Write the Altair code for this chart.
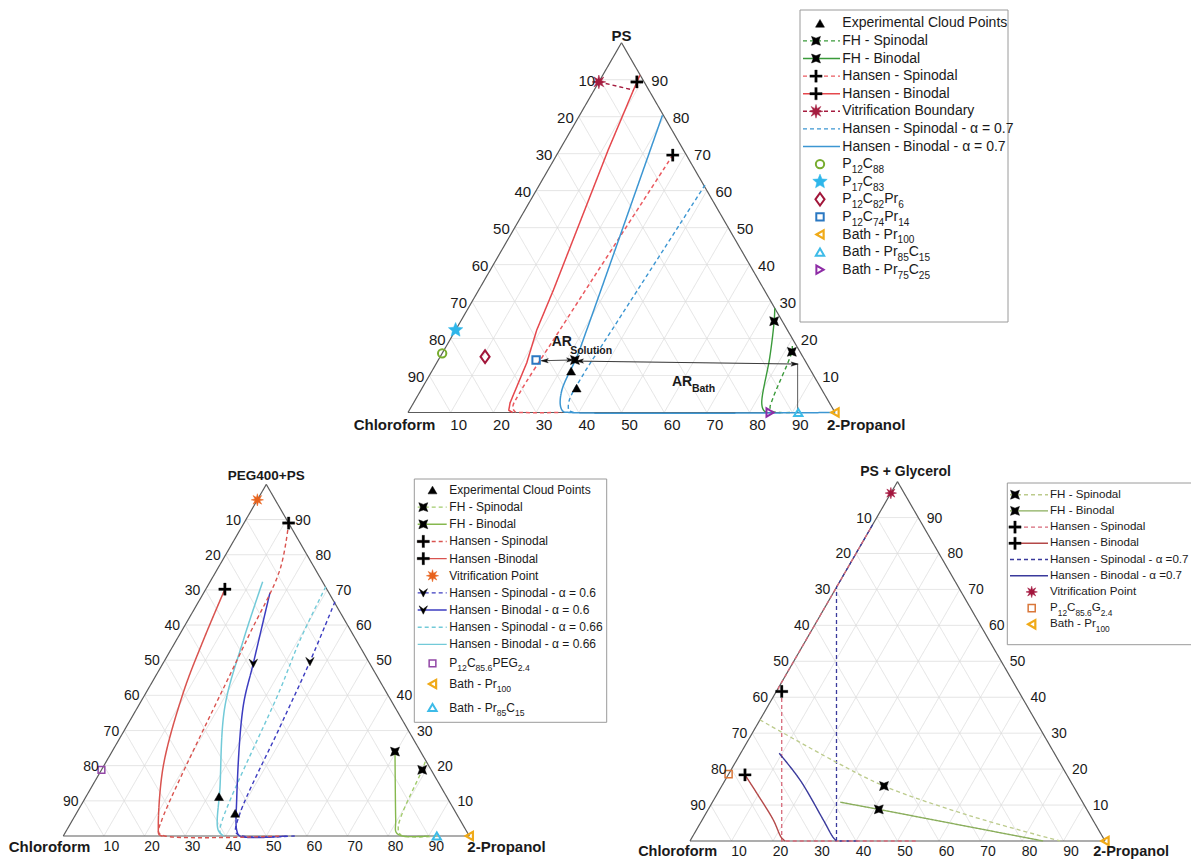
import math
import re
import altair as alt
import pandas as pd

# ===================== values (percent) =====================
TICKS = [10, 20, 30, 40, 50, 60, 70, 80, 90]
TOP_NAMES = ["PS", "PEG400+PS", "PS + Glycerol"]
LEFT_NAME = "Chloroform"
RIGHT_NAME = "2-Propanol"

# pr = 2-propanol %, ps = polymer %, chloroform = 100 - pr - ps
# ---------------- panel 1 : PS ----------------
p1_exp_pr = [32.6, 36.2]
p1_exp_ps = [11.2, 6.6]
p1_fhs_pr = [81.0, 81.7, 83.5, 84.2, 85.2, 87.0, 90.0]
p1_fhs_ps = [18.0, 16.4, 4.0, 1.2, 0.3, 0.0, 0.0]
p1_fhb_pr = [71.8, 73.4, 77.2, 81.6, 83.0, 84.0]
p1_fhb_ps = [28.2, 24.7, 15.1, 2.5, 0.6, 0.0]
p1_hs_pr = [27.2, 24.4, 23.5, 23.8, 25.0, 27.0, 36.0]
p1_hs_ps = [69.6, 22.3, 5.0, 1.5, 0.2, 0.0, 0.0]
p1_hb_pr = [8.7, 9.2, 11.4, 17.5, 19.0, 21.1, 22.6, 23.3, 24.5]
p1_hb_ps = [91.2, 87.2, 70.9, 33.1, 22.3, 13.4, 2.6, 0.6, 0.0]
p1_vit_pr = [0.0, 9.2]
p1_vit_ps = [89.4, 87.2]
p1_as_pr = [38.8, 36.6, 35.9, 36.2, 37.5, 39.0]
p1_as_ps = [61.5, 22.3, 10.0, 3.0, 0.5, 0.0]
p1_ab_pr = [19.4, 30.7, 32.0, 33.0, 34.8, 36.2, 38.0, 100.0]
p1_ab_ps = [80.4, 22.3, 15.1, 6.1, 1.8, 0.3, 0.0, 0.0]
p1_fhs_mk_pr, p1_fhs_mk_ps = [81.7], [16.4]
p1_fhb_mk_pr, p1_fhb_mk_ps = [73.4], [24.7]
p1_plus_pr, p1_plus_ps = [27.2, 8.9], [69.6, 89.4]
p1_vit_mk_pr, p1_vit_mk_ps = [0.0], [89.4]
p1_sample_keys = ["circ_g", "star_c", "dia_r", "sq_b", "tl_o", "tu_c", "tr_p"]
p1_sample_pr = [0.0, 0.0, 10.5, 22.9, 100.0, 91.4, 84.8]
p1_sample_ps = [16.0, 22.3, 15.1, 14.2, 0.0, 0.0, 0.0]
p1_ar_sol_pr, p1_ar_sol_ps = [24.3, 31.6], [14.0, 14.2]
p1_ar_bath_pr, p1_ar_bath_ps = [32.6, 84.7], [13.9, 13.1]
p1_ar_drop_pr, p1_ar_drop_ps = [84.7, 91.25], [13.1, 0.0]
p1_ar_mid_pr, p1_ar_mid_ps = [32.0], [14.2]

# ---------------- panel 2 : PEG400+PS ----------------
p2_exp_pr = [32.75, 39.1]
p2_exp_ps = [11.2, 6.45]
p2_fhs_pr = [78.6, 79.0, 81.2, 83.0, 92.0]
p2_fhs_ps = [21.1, 18.8, 2.6, 0.3, 0.0]
p2_fhb_pr = [69.7, 79.6, 81.5, 83.5, 90.0]
p2_fhb_ps = [24.0, 4.55, 1.0, 0.0, 0.0]
p2_hs_pr = [11.0, 15.5, 17.3, 22.0, 23.0, 25.0, 54.0]
p2_hs_ps = [89.0, 75.7, 55.7, 4.5, 1.0, 0.0, 0.0]
p2_hb_pr = [4.7, 6.65, 9.2, 14.75, 22.1, 23.4, 24.5]
p2_hb_ps = [70.2, 55.7, 40.6, 19.7, 2.6, 0.4, 0.0]
p2_a6s_pr = [33.6, 35.95, 37.85, 40.3, 42.0, 44.0, 57.0]
p2_a6s_ps = [66.6, 49.6, 31.1, 6.45, 1.0, 0.0, 0.0]
p2_a6b_pr = [16.3, 22.25, 25.9, 37.6, 42.0, 43.5, 55.0]
p2_a6b_ps = [69.2, 49.1, 36.8, 10.2, 1.5, 0.0, 0.0]
p2_a66s_pr = [29.2, 30.45, 32.6, 37.7, 39.0]
p2_a66s_ps = [70.9, 55.7, 41.5, 1.7, 0.0]
p2_a66b_pr = [12.95, 16.5, 21.4, 31.6, 37.3, 39.5]
p2_a66b_ps = [72.3, 55.7, 36.8, 14.0, 1.7, 0.0]
p2_fhs_mk_pr, p2_fhs_mk_ps = [79.0], [18.8]
p2_fhb_mk_pr, p2_fhb_mk_ps = [69.7], [24.0]
p2_plus_pr, p2_plus_ps = [11.0, 4.7], [89.0, 70.2]
p2_vee_pr, p2_vee_ps = [35.95, 22.25], [49.6, 49.1]
p2_vit_mk_pr, p2_vit_mk_ps = [0.0], [95.6]
p2_sample_keys = ["sq_p", "tl_o", "tu_c"]
p2_sample_pr = [0.0, 100.0, 92.0]
p2_sample_ps = [18.8, 0.0, 0.0]

# ---------------- panel 3 : PS + Glycerol ----------------
p3_fhs_pr = [0.0, 23.9, 39.1, 64.0, 89.2]
p3_fhs_ps = [33.7, 22.1, 15.3, 7.0, 0.0]
p3_fhb_pr = [30.8, 41.1, 85.1]
p3_fhb_ps = [10.8, 8.8, 0.0]
p3_hs_pr = [0.0, 0.0, 1.3, 22.1, 55.0]
p3_hs_ps = [87.0, 42.5, 41.6, 0.0, 0.0]
p3_hb_pr = [4.05, 9.45, 17.15, 21.5, 22.9]
p3_hb_ps = [18.4, 13.3, 5.85, 1.0, 0.0]
p3_as_pr = [0.0, 0.0, 35.3, 41.0]
p3_as_ps = [88.0, 70.6, 0.0, 0.0]
p3_ab_pr = [9.3, 18.0, 29.2, 34.0, 35.3]
p3_ab_ps = [24.4, 17.0, 5.85, 1.0, 0.0]
p3_fh_mk_pr, p3_fh_mk_ps = [39.1, 41.1], [15.3, 8.8]
p3_plus_pr, p3_plus_ps = [1.3, 4.05], [41.6, 18.4]
p3_vit_mk_pr, p3_vit_mk_ps = [0.0], [96.8]
p3_sample_keys = ["sq_o", "tl_o"]
p3_sample_pr = [0.0, 100.0]
p3_sample_ps = [18.6, 0.0]

# ---------------- legend texts (_{..} = subscript) ----------------
LEG1_LABELS = ["Experimental Cloud Points", "FH - Spinodal", "FH - Binodal",
               "Hansen - Spinodal", "Hansen - Binodal", "Vitrification Boundary",
               "Hansen - Spinodal - α = 0.7", "Hansen - Binodal - α = 0.7",
               "P_{12}C_{88}", "P_{17}C_{83}", "P_{12}C_{82}Pr_{6}", "P_{12}C_{74}Pr_{14}",
               "Bath - Pr_{100}", "Bath - Pr_{85}C_{15}", "Bath - Pr_{75}C_{25}"]
LEG2_LABELS = ["Experimental Cloud Points", "FH - Spinodal", "FH - Binodal",
               "Hansen - Spinodal", "Hansen -Binodal", "Vitrification Point",
               "Hansen - Spinodal - α = 0.6", "Hansen - Binodal - α = 0.6",
               "Hansen - Spinodal - α = 0.66", "Hansen - Binodal - α = 0.66",
               "P_{12}C_{85.6}PEG_{2.4}", "Bath - Pr_{100}", "Bath - Pr_{85}C_{15}"]
LEG3_LABELS = ["FH - Spinodal", "FH - Binodal", "Hansen - Spinodal", "Hansen - Binodal",
               "Hansen - Spinodal - α =0.7", "Hansen - Binodal - α =0.7",
               "Vitrification Point", "P_{12}C_{85.6}G_{2.4}", "Bath - Pr_{100}"]
AR_LABELS = [("AR", "Solution"), ("AR", "Bath")]

# ===================== styles / layout =====================
FONT = "Liberation Sans"
SQ3 = math.sqrt(3)
PAGE_W, PAGE_H, MARGIN = 1199, 859, 8
PANELS = {
    1: dict(x0=408.0, y0=412.5, L=427.0, tfs=15, nfs=15, top_fs=15,
            bdx=8, bdy=12.5, rdx=8.5, ldx=-5,
            top_off=(0, -7), left_off=(-13.5, 12.5), right_off=(-8, 12.5)),
    2: dict(x0=63.3, y0=836.0, L=406.0, tfs=14, nfs=15, top_fs=13.5,
            bdx=7.5, bdy=10.7, rdx=8.5, ldx=-5,
            top_off=(0, -8.5), left_off=(-13.7, 10.7), right_off=(-2, 10.7)),
    3: dict(x0=690.0, y0=841.0, L=415.0, tfs=14, nfs=14.5, top_fs=14,
            bdx=7.5, bdy=10.7, rdx=8.5, ldx=-5,
            top_off=(8, -10), left_off=(-12.4, 10.7), right_off=(-11.7, 10.7)),
}


def tern(panel, pr, ps):
    g = PANELS[panel]
    return (g["x0"] + g["L"] * (pr + ps / 2.0) / 100.0,
            g["y0"] - g["L"] * SQ3 / 2.0 * ps / 100.0)


def star_path(n, r_in):
    pts_ = []
    for i in range(2 * n):
        a = -math.pi / 2 + i * math.pi / n
        r = 1.0 if i % 2 == 0 else r_in
        pts_.append(f"{r * math.cos(a):.3f},{r * math.sin(a):.3f}")
    return "M" + "L".join(pts_) + "Z"


T = 0.2
PLUS = f"M{-T},-1L{T},-1L{T},{-T}L1,{-T}L1,{T}L{T},{T}L{T},1L{-T},1L{-T},{T}L-1,{T}L-1,{-T}L{-T},{-T}Z"
BOWTIE = "M-1,-1L0,-0.62L1,-1L0.62,0L1,1L0,0.62L-1,1L-0.62,0Z"
AST = star_path(8, 0.42)
STAR5 = star_path(5, 0.45)
DIAMOND = "M0,-1L0.72,0L0,1L-0.72,0Z"
VEE = "M-1,-1L0,-0.25L1,-1L0,1Z"
ARROW = "M1,0L-1,-0.6L-0.55,0L-1,0.6Z"

MK = {
    "exp": ("triangle-up", "#000000", "#000000", 80, 0.5),
    "fh": (BOWTIE, "#000000", "#000000", 80, 0.5),
    "plus": (PLUS, "#000000", "#000000", 150, 0.3),
    "vit1": (AST, "#a51c3f", "#a51c3f", 190, 0.5),
    "vit2": (AST, "#e8621c", "#e8621c", 150, 0.5),
    "vit3": (AST, "#a3153d", "#a3153d", 130, 0.5),
    "circ_g": ("circle", "transparent", "#77ac2e", 70, 2.0),
    "star_c": (STAR5, "#2eb6ea", "#2eb6ea", 230, 0.5),
    "dia_r": (DIAMOND, "transparent", "#a2163a", 160, 2.0),
    "sq_b": ("square", "transparent", "#2a78c2", 55, 2.0),
    "tl_o": ("triangle-left", "transparent", "#f0aa18", 70, 2.2),
    "tu_c": ("triangle-up", "transparent", "#3dbbe8", 70, 2.0),
    "tr_p": ("triangle-right", "transparent", "#8e2ca6", 70, 2.0),
    "sq_p": ("square", "transparent", "#9247a6", 45, 1.5),
    "sq_o": ("square", "transparent", "#d9773a", 50, 1.5),
    "vee": (VEE, "#000000", "#000000", 70, 0.5),
    "arr": (ARROW, "#111111", "#111111", 55, 0.3),
}

C1_GREEN, C1_RED, C1_RED2, C1_VIT, C1_BLUE = "#3a9a3a", "#e5484d", "#ea5a60", "#a51c3f", "#3c96d2"
C2_RED, C2_CYAN, C2_BLUE, C2_FHB, C2_FHS = "#d9534f", "#72cad8", "#3c3cc0", "#86b84e", "#a3cc6e"
C3_FHB, C3_FHS, C3_HS, C3_HB, C3_NAVY = "#8aae5c", "#bccb8c", "#d7697a", "#b44848", "#3a3a9c"

# (panel, pr, ps, colour, dash, width, smooth)
CURVES = [
    (1, p1_fhs_pr, p1_fhs_ps, C1_GREEN, "dash", 1.4, True),
    (1, p1_fhb_pr, p1_fhb_ps, C1_GREEN, "solid", 1.4, True),
    (1, p1_hs_pr, p1_hs_ps, C1_RED2, "dash", 1.5, True),
    (1, p1_as_pr, p1_as_ps, C1_BLUE, "dash", 1.4, True),
    (1, p1_ab_pr, p1_ab_ps, C1_BLUE, "solid", 1.5, True),
    (1, p1_hb_pr, p1_hb_ps, C1_RED, "solid", 1.5, False),
    (1, p1_vit_pr, p1_vit_ps, C1_VIT, "dash", 1.4, False),
    (2, p2_fhs_pr, p2_fhs_ps, C2_FHS, "dash", 1.4, True),
    (2, p2_fhb_pr, p2_fhb_ps, C2_FHB, "solid", 1.4, True),
    (2, p2_a66s_pr, p2_a66s_ps, C2_CYAN, "dash", 1.4, True),
    (2, p2_a66b_pr, p2_a66b_ps, C2_CYAN, "solid", 1.5, True),
    (2, p2_a6s_pr, p2_a6s_ps, C2_BLUE, "dash", 1.4, True),
    (2, p2_a6b_pr, p2_a6b_ps, C2_BLUE, "solid", 1.5, True),
    (2, p2_hs_pr, p2_hs_ps, C2_RED, "dash", 1.4, True),
    (2, p2_hb_pr, p2_hb_ps, C2_RED, "solid", 1.5, True),
    (3, p3_fhs_pr, p3_fhs_ps, C3_FHS, "dash", 1.3, True),
    (3, p3_fhb_pr, p3_fhb_ps, C3_FHB, "solid", 1.4, False),
    (3, p3_as_pr, p3_as_ps, C3_NAVY, "dash", 1.3, False),
    (3, p3_ab_pr, p3_ab_ps, C3_NAVY, "solid", 1.4, True),
    (3, p3_hs_pr, p3_hs_ps, C3_HS, "dash", 1.3, False),
    (3, p3_hb_pr, p3_hb_ps, C3_HB, "solid", 1.4, True),
]

MARKS = [
    (1, ["exp"] * 2, p1_exp_pr, p1_exp_ps),
    (1, ["fh"], p1_fhs_mk_pr, p1_fhs_mk_ps),
    (1, ["fh"], p1_fhb_mk_pr, p1_fhb_mk_ps),
    (1, ["plus"] * 2, p1_plus_pr, p1_plus_ps),
    (1, ["vit1"], p1_vit_mk_pr, p1_vit_mk_ps),
    (1, p1_sample_keys, p1_sample_pr, p1_sample_ps),
    (1, ["fh"], p1_ar_mid_pr, p1_ar_mid_ps),
    (2, ["exp"] * 2, p2_exp_pr, p2_exp_ps),
    (2, ["fh"], p2_fhs_mk_pr, p2_fhs_mk_ps),
    (2, ["fh"], p2_fhb_mk_pr, p2_fhb_mk_ps),
    (2, ["plus"] * 2, p2_plus_pr, p2_plus_ps),
    (2, ["vee"] * 2, p2_vee_pr, p2_vee_ps),
    (2, ["vit2"], p2_vit_mk_pr, p2_vit_mk_ps),
    (2, p2_sample_keys, p2_sample_pr, p2_sample_ps),
    (3, ["fh"] * 2, p3_fh_mk_pr, p3_fh_mk_ps),
    (3, ["plus"] * 2, p3_plus_pr, p3_plus_ps),
    (3, ["vit3"], p3_vit_mk_pr, p3_vit_mk_ps),
    (3, p3_sample_keys, p3_sample_pr, p3_sample_ps),
]

LEG1_STYLE = [(None, None, "exp"), (C1_GREEN, "dash", "fh"), (C1_GREEN, "solid", "fh"),
              (C1_RED2, "dash", "plus"), (C1_RED, "solid", "plus"), (C1_VIT, "dash", "vit1"),
              (C1_BLUE, "dash", None), (C1_BLUE, "solid", None)] + [(None, None, k) for k in p1_sample_keys]
LEG2_STYLE = [(None, None, "exp"), (C2_FHS, "dash", "fh"), (C2_FHB, "solid", "fh"),
              (C2_RED, "dash", "plus"), (C2_RED, "solid", "plus"), (None, None, "vit2"),
              (C2_BLUE, "dash", "vee"), (C2_BLUE, "solid", "vee"),
              (C2_CYAN, "dash", None), (C2_CYAN, "solid", None)] + [(None, None, k) for k in p2_sample_keys]
LEG3_STYLE = [(C3_FHS, "dash", "fh"), (C3_FHB, "solid", "fh"), (C3_HS, "dash", "plus"),
              (C3_HB, "solid", "plus"), (C3_NAVY, "dash", None), (C3_NAVY, "solid", None),
              (None, None, "vit3"), (None, None, "sq_o"), (None, None, "tl_o")]

LEGENDS = [
    dict(labels=LEG1_LABELS, style=LEG1_STYLE, box=(800, 10, 1008, 322),
         rows=[23.3 + 17.6 * i for i in range(15)], line=(803, 840), mk_line=816, mk_only=820,
         tx=842.3, fs=14),
    dict(labels=LEG2_LABELS, style=LEG2_STYLE, box=(414.3, 479, 606.7, 722.3),
         rows=[490 + 17.15 * i for i in range(10)] + [663.3, 684.0, 707.5],
         line=(417.7, 446.7), mk_line=423.3, mk_only=432.5, tx=449.3, fs=12),
    dict(labels=LEG3_LABELS, style=LEG3_STYLE, box=(1007.3, 483, 1196, 644.7),
         rows=[494.7 + 16.2 * i for i in range(9)], line=(1010, 1048), mk_line=1015, mk_only=1031.7,
         tx=1050, fs=11.6),
]

# Arial / Liberation Sans advance widths (1/1000 em) for the glyphs used in sub-scripted labels
AW = {**{d: 556 for d in "0123456789"}, "P": 667, "C": 722, "r": 333, "B": 667, "a": 556,
      "t": 278, "h": 556, " ": 278, "-": 333, "G": 778, "E": 667, ".": 278}


def text_w(s, fs):
    return sum(AW.get(ch, 556) for ch in s) * fs / 1000.0


# ===================== build tables =====================
seg_lo, seg_hi, lines, pts, texts, boxes = [], [], [], [], [], []


def add_seg(store, a, b, col, w, dash="solid"):
    store.append(dict(x=a[0], y=a[1], x2=b[0], y2=b[1], col=col, w=w, dash=dash))


def add_pt(key, x, y, ang=0):
    shp, fill, stroke, size, sw = MK[key]
    pts.append(dict(x=x, y=y, shp=shp, fill=fill, stroke=stroke, size=size, sw=sw, ang=ang))


def add_txt(x, y, t, fs, align, weight="normal", col="#1a1a1a"):
    texts.append(dict(x=x, y=y, t=t, fs=fs, align=align, weight=weight, col=col))


def add_rich(x, y, label, fs):
    parts = re.split(r"_\{([^}]*)\}", label)
    cx = x
    for i, seg in enumerate(parts):
        if not seg:
            continue
        if i % 2 == 0:
            add_txt(cx, y, seg, fs, "left")
            cx += text_w(seg, fs)
        else:
            sfs = fs * 0.72
            add_txt(cx, y + 0.42 * fs, seg, sfs, "left")
            cx += text_w(seg, sfs)


for pn, g in PANELS.items():
    for k in TICKS:
        add_seg(seg_lo, tern(pn, 0, k), tern(pn, 100 - k, k), "#dcdcdc", 0.8)
        add_seg(seg_lo, tern(pn, k, 0), tern(pn, k, 100 - k), "#dcdcdc", 0.8)
        add_seg(seg_lo, tern(pn, 100 - k, 0), tern(pn, 0, 100 - k), "#dcdcdc", 0.8)
    corners = [tern(pn, 0, 0), tern(pn, 100, 0), tern(pn, 0, 100)]
    for i in range(3):
        add_seg(seg_lo, corners[i], corners[(i + 1) % 3], "#5c5c5c", 1.2)
    for k in TICKS:
        bx, by = tern(pn, k, 0)
        add_txt(bx + g["bdx"], by + g["bdy"], str(k), g["tfs"], "center")
        rx, ry = tern(pn, 100 - k, k)
        add_txt(rx + g["rdx"], ry + 1, str(k), g["tfs"], "left")
        lx, ly = tern(pn, 0, 100 - k)
        add_txt(lx + g["ldx"], ly + 1, str(k), g["tfs"], "right")
    add_txt(corners[2][0] + g["top_off"][0], corners[2][1] + g["top_off"][1],
            TOP_NAMES[pn - 1], g["top_fs"], "center", "bold")
    add_txt(corners[0][0] + g["left_off"][0], corners[0][1] + g["left_off"][1],
            LEFT_NAME, g["nfs"], "center", "bold")
    add_txt(corners[1][0] + g["right_off"][0], corners[1][1] + g["right_off"][1],
            RIGHT_NAME, g["nfs"], "left", "bold")

for sid, (pn, prs, pss, col, dash, w, smooth) in enumerate(CURVES):
    for o, (a, b) in enumerate(zip(prs, pss)):
        x, y = tern(pn, a, b)
        lines.append(dict(sid=sid, o=o, x=x, y=y, col=col, dash=dash, w=w, smooth=smooth))

for pn, keys, prs, pss in MARKS:
    for key, a, b in zip(keys, prs, pss):
        x, y = tern(pn, a, b)
        add_pt(key, x, y)

# AR arrows in panel 1
for prs, pss in [(p1_ar_sol_pr, p1_ar_sol_ps), (p1_ar_bath_pr, p1_ar_bath_ps)]:
    a = tern(1, prs[0], pss[0])
    b = tern(1, prs[1], pss[1])
    add_seg(seg_hi, a, b, "#222222", 1.0)
    add_pt("arr", a[0] + 3, a[1], 180)
    add_pt("arr", b[0] - 3, b[1], 0)
add_seg(seg_hi, tern(1, p1_ar_drop_pr[0], p1_ar_drop_ps[0]),
        tern(1, p1_ar_drop_pr[1], p1_ar_drop_ps[1]), "#444444", 0.9)
sa = tern(1, p1_ar_sol_pr[0], p1_ar_sol_ps[0])
ba = tern(1, p1_ar_bath_pr[0], p1_ar_bath_ps[0])
for (main, sub), (ax, ay, mdx, mdy, sdx, sdy) in zip(
        AR_LABELS, [(sa[0], sa[1], 10, -18.5, 28.5, -10), (ba[0], ba[1], 95, 21, 115, 27.5)]):
    add_txt(ax + mdx, ay + mdy, main, 14, "left", "bold")
    add_txt(ax + sdx, ay + sdy, sub, 10.5, "left", "bold")

# legends
for lg in LEGENDS:
    x1, y1, x2, y2 = lg["box"]
    boxes.append(dict(x=x1, y=y1, x2=x2, y2=y2))
    for lab, (lc, dash, mk), ry in zip(lg["labels"], lg["style"], lg["rows"]):
        if lc is not None:
            add_seg(seg_hi, (lg["line"][0], ry), (lg["line"][1], ry), lc, 1.4, dash)
        if mk is not None:
            add_pt(mk, lg["mk_line"] if lc is not None else lg["mk_only"], ry)
        add_rich(lg["tx"], ry, lab, lg["fs"])

# ===================== chart =====================
W = PAGE_W - 2 * MARGIN
H = PAGE_H - MARGIN
XS = alt.Scale(domain=[MARGIN, MARGIN + W], nice=False, zero=False)
YS = alt.Scale(domain=[MARGIN, MARGIN + H], nice=False, zero=False, reverse=True)


def X(f="x"):
    return alt.X(f"{f}:Q", scale=XS, axis=None)


def Y(f="y"):
    return alt.Y(f"{f}:Q", scale=YS, axis=None)


DASH = alt.StrokeDash("dash:N", scale=alt.Scale(domain=["solid", "dash"], range=[[1, 0], [4, 3]]),
                      legend=None)


def rules(rows):
    return alt.Chart(pd.DataFrame(rows)).mark_rule(strokeCap="butt").encode(
        x=X(), y=Y(), x2=alt.X2("x2:Q"), y2=alt.Y2("y2:Q"),
        color=alt.Color("col:N", scale=None),
        strokeWidth=alt.StrokeWidth("w:Q", scale=None),
        strokeDash=DASH)


box_layer = alt.Chart(pd.DataFrame(boxes)).mark_rect(
    fill="white", stroke="#9a9a9a", strokeWidth=1).encode(
    x=X(), y=Y(), x2=alt.X2("x2:Q"), y2=alt.Y2("y2:Q"))

ldf = pd.DataFrame(lines)
line_layers = []
for smooth, sub in ldf.groupby("smooth"):
    line_layers.append(
        alt.Chart(sub.drop(columns="smooth").reset_index(drop=True)).mark_line(
            strokeCap="butt", strokeJoin="round",
            interpolate="catmull-rom" if smooth else "linear").encode(
            x=X(), y=Y(), detail="sid:N", order="o:Q",
            color=alt.Color("col:N", scale=None),
            strokeWidth=alt.StrokeWidth("w:Q", scale=None),
            strokeDash=DASH))

pt_layer = alt.Chart(pd.DataFrame(pts)).mark_point(opacity=1).encode(
    x=X(), y=Y(),
    shape=alt.Shape("shp:N", scale=None),
    fill=alt.Fill("fill:N", scale=None),
    stroke=alt.Stroke("stroke:N", scale=None),
    size=alt.Size("size:Q", scale=None),
    strokeWidth=alt.StrokeWidth("sw:Q", scale=None),
    angle=alt.Angle("ang:Q", scale=None))

tdf = pd.DataFrame(texts)
text_layers = []
for (al, wt), sub in tdf.groupby(["align", "weight"]):
    text_layers.append(
        alt.Chart(sub.reset_index(drop=True)).mark_text(
            align=al, baseline="middle", font=FONT, fontWeight=wt).encode(
            x=X(), y=Y(), text=alt.Text("t:N"),
            size=alt.Size("fs:Q", scale=None),
            color=alt.Color("col:N", scale=None)))

chart = alt.layer(box_layer, rules(seg_lo), *line_layers, rules(seg_hi), pt_layer, *text_layers).properties(
    width=W, height=H, autosize=alt.AutoSizeParams(type="none"), padding=0
).configure_view(strokeWidth=0)

chart.save("out.html", embed_options={"renderer": "svg", "actions": False})
